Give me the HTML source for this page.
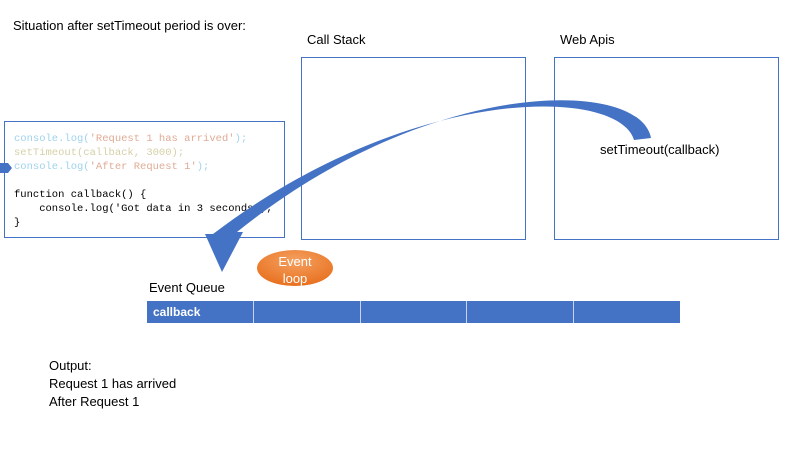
<!DOCTYPE html><html><head><style>
body{margin:0;width:800px;height:450px;background:#fff;position:relative;overflow:hidden;font-family:"Liberation Sans",sans-serif;}
.a{position:absolute;}
.box{position:absolute;border:1px solid #4472c4;}
.code{font-family:"Liberation Mono",monospace;font-size:10.5px;line-height:14px;white-space:pre;}
.q{position:absolute;top:301px;height:22px;background:#4472c4;border-right:1px solid #c8d4ee;}
</style></head><body>
<div class="a" style="left:13px;top:18px;font-size:13px">Situation after setTimeout period is over:</div>
<div class="a" style="left:307px;top:32px;font-size:13px">Call Stack</div>
<div class="a" style="left:560px;top:32px;font-size:13px">Web Apis</div>
<div class="box" style="left:301px;top:57px;width:223px;height:181px"></div>
<div class="box" style="left:554px;top:57px;width:223px;height:181px"></div>
<div class="a" style="left:600px;top:142px;font-size:13px">setTimeout(callback)</div>
<div class="box" style="left:4px;top:121px;width:279px;height:115px"></div>
<div class="a code" style="left:14px;top:132px"><span style="color:#9fd3ee">console.log(</span><span style="color:#e0ab95">'Request 1 has arrived'</span><span style="color:#9fd3ee">);</span>
<span style="color:#d6d0a8">setTimeout(callback, 3000);</span>
<span style="color:#9fd3ee">console.log(</span><span style="color:#e0ab95">'After Request 1'</span><span style="color:#9fd3ee">);</span>

<span style="color:#000">function callback() {
    console.log('Got data in 3 seconds');
}</span></div>
<svg class="a" style="left:0;top:0" width="800" height="450">
<polygon points="0,163 8,163 12,168 8,173 0,173" fill="#4472c4"/>
<path d="M651,138 C640,78 430,76 237,232 L243,232 L222,272 L205,234 L213,234 C410,84 618,86 634,140 Z" fill="#4472c4"/>
<defs><radialGradient id="g" cx="0.5" cy="0.3" r="0.7"><stop offset="0" stop-color="#f4a060"/><stop offset="1" stop-color="#e8701e"/></radialGradient></defs>
<ellipse cx="295" cy="268" rx="38" ry="18" fill="url(#g)"/>
<text x="295" y="266" font-size="13" fill="#fff" text-anchor="middle" font-family="Liberation Sans">Event</text>
<text x="295" y="283" font-size="13" fill="#fff" text-anchor="middle" font-family="Liberation Sans">loop</text>
</svg>
<div class="a" style="left:149px;top:280px;font-size:13px">Event Queue</div>
<div class="q" style="left:147px;width:106px"></div>
<div class="q" style="left:254px;width:106px"></div>
<div class="q" style="left:361px;width:105px"></div>
<div class="q" style="left:467px;width:106px"></div>
<div class="q" style="left:574px;width:106px;border-right:none"></div>
<div class="a" style="left:153px;top:305px;font-size:12px;font-weight:bold;color:#fff">callback</div>
<div class="a" style="left:49px;top:357px;font-size:13px;line-height:18px">Output:<br>Request 1 has arrived<br>After Request 1</div>
</body></html>
